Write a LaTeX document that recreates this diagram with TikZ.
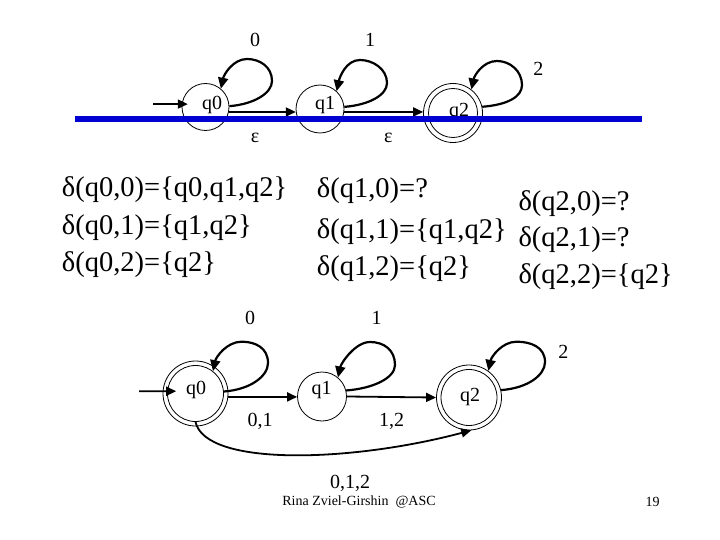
\documentclass[tikz,border=0pt]{standalone}
\usepackage{fontspec}
\setmainfont{Liberation Serif}
\usetikzlibrary{arrows.meta,calc}
\definecolor{lineblue}{RGB}{0,0,210}
\tikzset{
  stnode/.style={circle,draw,line width=0.8pt,inner sep=0pt},
  lbl/.style={font=\fontsize{20}{24}\selectfont,inner sep=0pt},
  big/.style={font=\fontsize{28.5}{32}\selectfont,inner sep=0pt,anchor=base west},
  foot/.style={font=\fontsize{14}{16}\selectfont,inner sep=0pt},
  arr/.style={line width=1.8pt,-{Triangle[length=10pt,width=9pt]}},
  looparr/.style={line width=2.2pt,-{Triangle[length=11pt,width=10pt]}},
}
\begin{document}
\begin{tikzpicture}[x=1pt,y=-1pt]
\useasboundingbox (0,0) rectangle (720,540);
\fill[white] (0,0) rectangle (720,540);

% ---------- top automaton ----------
\node[stnode,minimum size=47pt] (q0) at (205.5,107) {};
\node[stnode,minimum size=48pt] (q1) at (320,109) {};
\node[stnode,minimum size=59pt] (q2) at (453,113) {};
\node[stnode,minimum size=49pt] (q2i) at (453,113) {};
\node[lbl] (q0t) at (212,105) {q0};
\node[lbl] (q1t) at (325,105) {q1};
\node[lbl] (q2t) at (459,112) {q2};

\coordinate (init0) at (153,104);
\draw[arr,shorten >=-6pt] (init0) -- (q0.173);
\draw[arr] (q0.-12) -- (q1.187);
\draw[arr] (q1.-7) -- (q2.178);

\draw[looparr] (q0.2) .. controls +(25,-2) and +(0,12) .. (272,81)
  .. controls +(0,-14) and +(13,0) .. (247,59)
  .. controls +(-14,0) and +(3,-14) .. (q0.50);
\draw[looparr] (q1.5) .. controls +(25,-2) and +(0,12) .. (387,83)
  .. controls +(0,-14) and +(13,0) .. (360,60)
  .. controls +(-14,0) and +(3,-14) .. (q1.47);
\draw[looparr] (q2.12) .. controls +(25,-2) and +(0,12) .. (522,85)
  .. controls +(0,-14) and +(13,0) .. (497,61)
  .. controls +(-14,0) and +(3,-14) .. (q2.52);

\node[lbl] (l0t) at (255,40) {0};
\node[lbl] (l1t) at (370,40) {1};
\node[lbl] (l2t) at (538.3,69.3) {2};
\node[lbl] (e1) at (255,138.3) {ε};
\node[lbl] (e2) at (388.3,138.3) {ε};

% blue rule
\draw[lineblue,line width=6pt] (75,119.5) -- (642,119.5);

% ---------- transition table ----------
\node[big] (d00) at (61.7,196.5) {δ(q0,0)=\{q0,q1,q2\}};
\node[big] (d01) at (61.7,234) {δ(q0,1)=\{q1,q2\}};
\node[big] (d02) at (61.7,271.5) {δ(q0,2)=\{q2\}};
\node[big] (d10) at (316.7,197) {δ(q1,0)=?};
\node[big] (d11) at (316.7,238) {δ(q1,1)=\{q1,q2\}};
\node[big] (d12) at (316.7,275.5) {δ(q1,2)=\{q2\}};
\node[big] (d20) at (518.3,211) {δ(q2,0)=?};
\node[big] (d21) at (518.3,246) {δ(q2,1)=?};
\node[big] (d22) at (518.3,283) {δ(q2,2)=\{q2\}};

% ---------- bottom automaton ----------
\node[stnode,minimum size=65pt] (q0b) at (195.5,393.5) {};
\node[stnode,minimum size=56pt] (q0bi) at (195.5,393.5) {};
\node[stnode,minimum size=49pt] (q1b) at (322,396.5) {};
\node[stnode,minimum size=65pt] (q2b) at (469,397.5) {};
\node[stnode,minimum size=56pt] (q2bi) at (469,397.5) {};
\node[lbl] (q0bt) at (196,390) {q0};
\node[lbl] (q1bt) at (321.7,390) {q1};
\node[lbl] (q2bt) at (470,396.7) {q2};

\coordinate (init1) at (139,391.2);
\draw[arr,shorten >=-13.5pt] (init1) -- (q0b.176);
\draw[arr] (q0b.-6) -- (q1b.181);
\draw[arr] (q1b.east) -- (q2b.west);
\draw[arr] (q0bi.-90) .. controls +(10,45) and +(-120,32) .. (q2b.-86);

\draw[looparr] (q0bi.4) .. controls +(27,-2) and +(0,13) .. (268,363)
  .. controls +(0,-15) and +(14,0) .. (241.7,341.7)
  .. controls +(-15,0) and +(3,-14) .. (q0bi.52);
\draw[looparr] (q1b.14) .. controls +(27,-2) and +(0,13) .. (395,365)
  .. controls +(0,-15) and +(14,0) .. (370,342)
  .. controls +(-15,0) and +(3,-14) .. (q1b.50);
\draw[looparr] (q2b.13) .. controls +(27,-2) and +(0,13) .. (545,362)
  .. controls +(0,-15) and +(14,0) .. (516.7,341.7)
  .. controls +(-15,0) and +(3,-14) .. (q2b.54);

\node[lbl] (l0b) at (250,318.3) {0};
\node[lbl] (l1b) at (376.7,318.3) {1};
\node[lbl] (l2b) at (563.3,351.7) {2};
\node[lbl] (l01) at (260,421.7) {0,1};
\node[lbl] (l12) at (391.7,421.7) {1,2};
\node[lbl] (l012) at (350,483.3) {0,1,2};

% ---------- footer ----------
\node[foot] (author) at (359,502) {Rina Zviel-Girshin~~@ASC};
\node[foot] (page) at (652.5,502) {19};
\end{tikzpicture}
\end{document}
